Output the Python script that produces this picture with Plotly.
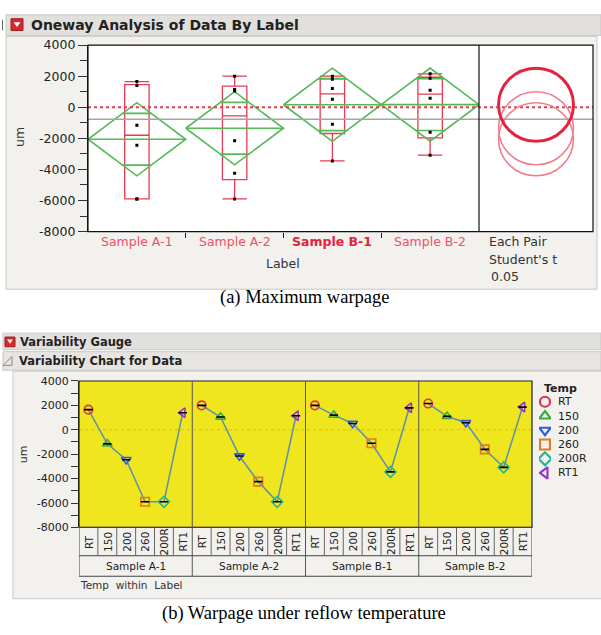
import numpy as np
import plotly.graph_objects as go

# ---------------- data ----------------
samples = ["Sample A-1", "Sample A-2", "Sample B-1", "Sample B-2"]
temps = ["RT", "150", "200", "260", "200R", "RT1"]
warp_a1 = [1650, -1150, -2450, -5900, -5900, 1400]
warp_a2 = [2000, 1050, -2150, -4250, -5900, 1150]
warp_b1 = [2000, 1200, 520, -1100, -3450, 1800]
warp_b2 = [2150, 1100, 580, -1600, -3080, 1860]
y_ticks = [4000, 2000, 0, -2000, -4000, -6000, -8000]
y_minor = [3000, 1000, -1000, -3000, -5000, -7000]
t_crit = 2.086          # Student's t, alpha = 0.05, df = 20
alpha_text = "0.05"
selected = "Sample B-1"

groups = [warp_a1, warp_a2, warp_b1, warp_b2]

# ---------------- geometry helpers ----------------
W, H = 601, 635
def fx(p):
    return p / W
def fy(p):
    return 1 - p / H

SANS = "DejaVu Sans"
SERIF = "Liberation Serif"
BOX_RED = "rgb(232,58,82)"
LBL_RED = "rgb(236,82,104)"
SEL_RED = "rgb(226,36,62)"
GREEN = "rgb(84,186,84)"
YELLOW = "rgb(240,230,30)"
PANEL = "#f2f1ee"
HEADER = "#e2e0dd"
BORDER = "#c9c7c4"
TXT = "#222222"

temp_colors = ["rgb(222,52,84)", "rgb(60,172,64)", "rgb(52,92,222)",
               "rgb(222,122,40)", "rgb(36,180,150)", "rgb(150,52,204)"]
temp_symbols = ["circle-open", "triangle-up-open", "triangle-down-open",
                "square-open", "diamond-open", "triangle-left-open"]

# ---------------- statistics ----------------
data = np.array(groups, dtype=float)
n = data.shape[1]
means = data.mean(axis=1)
grand = data.mean()
ss = ((data - means[:, None]) ** 2).sum()
dfe = data.size - len(groups)
s_pooled = np.sqrt(ss / dfe)
half = t_crit * s_pooled / np.sqrt(n)

fig = go.Figure()
shapes = []
ann = []

def rect_px(x0, y0, x1, y1, fill, line=None, lw=1, layer="below"):
    shapes.append(dict(type="rect", xref="paper", yref="paper",
                       x0=fx(x0), x1=fx(x1), y0=fy(y1), y1=fy(y0),
                       fillcolor=fill, line=dict(color=line or fill, width=lw if line else 0),
                       layer=layer))

def text_px(x, y, t, size, color=TXT, family=SANS, xanchor="left", angle=0):
    ann.append(dict(x=fx(x), y=fy(y), xref="paper", yref="paper", text=t,
                    showarrow=False, xanchor=xanchor, yanchor="middle", textangle=angle,
                    font=dict(family=family, size=size, color=color)))

# ---------------- backgrounds (screenshots) ----------------
rect_px(6, 7, 601, 28, HEADER, BORDER)
rect_px(6, 29, 597, 288, PANEL, BORDER)
rect_px(88, 38, 593, 229, "white")
rect_px(3, 333, 601, 350, HEADER, BORDER)
rect_px(3, 352, 601, 371, "#e7e5e2", BORDER)
rect_px(13, 372, 603, 605, PANEL, BORDER)
rect_px(79, 382, 532, 532, YELLOW)

# icons
shapes.append(dict(type="line", xref="paper", yref="paper", x0=fx(2.5), x1=fx(2.5),
                   y0=fy(23), y1=fy(12), line=dict(color="#666", width=1)))
rect_px(11, 11, 23, 23, "rgb(214,40,46)", "rgb(160,30,30)", layer="above")
shapes.append(dict(type="path", xref="paper", yref="paper",
                   path=f"M {fx(13.5)} {fy(14.5)} L {fx(20.5)} {fy(14.5)} L {fx(17)} {fy(19.5)} Z",
                   fillcolor="white", line=dict(width=0)))
rect_px(5, 337, 15, 347, "rgb(214,40,46)", "rgb(160,30,30)", layer="above")
shapes.append(dict(type="path", xref="paper", yref="paper",
                   path=f"M {fx(7)} {fy(339.5)} L {fx(13)} {fy(339.5)} L {fx(10)} {fy(344)} Z",
                   fillcolor="white", line=dict(width=0)))
shapes.append(dict(type="path", xref="paper", yref="paper",
                   path=f"M {fx(12)} {fy(357)} L {fx(12)} {fy(366)} L {fx(3)} {fy(366)} Z",
                   fillcolor="rgba(0,0,0,0)", line=dict(color="#888", width=1)))

text_px(29, 17.5, "<b>Oneway Analysis of Data By Label</b>", 14)
text_px(18, 342, "<b>Variability Gauge</b>", 11.5)
text_px(17, 362, "<b>Variability Chart for Data</b>", 11.5)

# captions
text_px(305, 296, "(a) Maximum warpage", 18.5, "black", SERIF, "center")
text_px(304, 620, "(b) Warpage under reflow temperature", 18.5, "black", SERIF, "center")

# ---------------- top chart: oneway ----------------
shapes.append(dict(type="line", xref="paper", yref="y", x0=fx(88), x1=fx(593),
                   y0=grand, y1=grand, line=dict(color="rgb(165,165,165)", width=1.5)))
shapes.append(dict(type="line", xref="paper", yref="y", x0=fx(88), x1=fx(593),
                   y0=0, y1=0, line=dict(color="rgb(230,60,80)", width=1.8, dash="dot")))

w_ov = 0.5 * (1 - 1 / np.sqrt(2))
for i, vals in enumerate(groups):
    m = means[i]
    d = half / np.sqrt(2)
    xs = [i - 0.5, i, i + 0.5, i, i - 0.5, None, i - 0.5, i + 0.5, None,
          i - w_ov, i + w_ov, None, i - w_ov, i + w_ov]
    ys = [m, m + half, m, m - half, m, None, m, m, None, m + d, m + d, None, m - d, m - d]
    fig.add_trace(go.Scatter(x=xs, y=ys, mode="lines", xaxis="x", yaxis="y",
                             line=dict(color=GREEN, width=1.6), showlegend=False,
                             hoverinfo="skip"))
    q1, med, q3 = np.percentile(vals, [25, 50, 75], method="weibull")
    iqr = q3 - q1
    lf = min(v for v in vals if v >= q1 - 1.5 * iqr)
    uf = max(v for v in vals if v <= q3 + 1.5 * iqr)
    fig.add_trace(go.Box(x=[i], q1=[q1], median=[med], q3=[q3], lowerfence=[lf],
                         upperfence=[uf], width=0.25, whiskerwidth=1,
                         fillcolor="rgba(0,0,0,0)", line=dict(color=BOX_RED, width=1.3),
                         boxpoints=False, xaxis="x", yaxis="y", showlegend=False,
                         orientation="v"))
    fig.add_trace(go.Scatter(x=[i] * len(vals), y=vals, mode="markers", xaxis="x", yaxis="y",
                             marker=dict(symbol="square", size=3, color="black"),
                             showlegend=False, hoverinfo="skip"))

# comparison circles
px_per_unit = (229 - 38) / 12000.0
order = [1, 0, 3, 2]
for i in order:
    r = half
    rx = r * px_per_unit / (593 - 479)
    sel = samples[i] == selected
    shapes.append(dict(type="circle", xref="x2", yref="y", x0=0.5 - rx, x1=0.5 + rx,
                       y0=means[i] - r, y1=means[i] + r,
                       line=dict(color=SEL_RED if sel else "rgb(242,128,140)",
                                 width=3 if sel else 1.6), layer="above"))

# frame
shapes.append(dict(type="rect", xref="paper", yref="paper", x0=fx(88), x1=fx(593),
                   y0=fy(229), y1=fy(38), line=dict(color="#111", width=1.2), layer="above"))
shapes.append(dict(type="line", xref="paper", yref="paper", x0=fx(479), x1=fx(479),
                   y0=fy(229), y1=fy(38), line=dict(color="#111", width=1.2)))

for i, s in enumerate(samples):
    sel = s == selected
    ann.append(dict(x=i, y=fy(239.5), xref="x", yref="paper", showarrow=False,
                    text=f"<b>{s}</b>" if sel else s, xanchor="center", yanchor="middle",
                    font=dict(family=SANS, size=12.5, color=SEL_RED if sel else LBL_RED)))
text_px(283, 262, "Label", 12.5, "#333", SANS, "center")
text_px(487, 239.5, "Each Pair", 12.5, "#333")
text_px(487, 257.5, "Student's t", 12.5, "#333")
text_px(489, 275, alpha_text, 12.5, "#333")
text_px(20, 132, "um", 12.5, "#333", SANS, "center", -90)

# ---------------- bottom chart: variability ----------------
shapes.append(dict(type="line", xref="paper", yref="y3", x0=fx(79), x1=fx(532),
                   y0=0, y1=0, line=dict(color="rgba(190,150,70,0.6)", width=1, dash="dot")))
for k, vals in enumerate(groups):
    fig.add_trace(go.Scatter(x=[6 * k + j for j in range(len(temps))], y=vals,
                             mode="lines", xaxis="x3", yaxis="y3",
                             line=dict(color="rgb(98,146,168)", width=1.6),
                             showlegend=False, hoverinfo="skip"))
for j, t in enumerate(temps):
    fig.add_trace(go.Scatter(x=[6 * k + j for k in range(len(groups))],
                             y=[g[j] for g in groups], mode="markers", xaxis="x3", yaxis="y3",
                             marker=dict(symbol=temp_symbols[j], size=8.5,
                                         color=temp_colors[j], line=dict(width=1.6)),
                             showlegend=False, name=t, hoverinfo="skip"))
fig.add_trace(go.Scatter(x=[6 * k + j for k in range(len(groups)) for j in range(len(temps))],
                         y=[v for g in groups for v in g], mode="markers", xaxis="x3", yaxis="y3",
                         marker=dict(symbol="line-ew", size=6, color="black",
                                     line=dict(width=1.6, color="black")),
                         showlegend=False, hoverinfo="skip"))

shapes.append(dict(type="rect", xref="paper", yref="paper", x0=fx(79), x1=fx(532),
                   y0=fy(532), y1=fy(382), line=dict(color="#222", width=1.2), layer="above"))
for k in range(1, len(groups)):
    xb = 6 * k - 0.5
    shapes.append(dict(type="line", xref="x3", yref="paper", x0=xb, x1=xb,
                       y0=fy(582), y1=fy(382), line=dict(color="#555", width=1)))
shapes.append(dict(type="rect", xref="x3", yref="paper", x0=-0.5, x1=6 * len(groups) - 0.5,
                   y0=fy(582), y1=fy(532), line=dict(color="#444", width=1)))
shapes.append(dict(type="line", xref="x3", yref="paper", x0=-0.5, x1=6 * len(groups) - 0.5,
                   y0=fy(561), y1=fy(561), line=dict(color="#444", width=1)))
for i in range(6 * len(groups) - 1):
    if (i + 1) % 6 == 0:
        continue
    shapes.append(dict(type="line", xref="x3", yref="paper", x0=i + 0.5, x1=i + 0.5,
                       y0=fy(561), y1=fy(532), line=dict(color="#666", width=1)))
for k, s in enumerate(samples):
    for j, t in enumerate(temps):
        ann.append(dict(x=6 * k + j, y=fy(546.5), xref="x3", yref="paper", text=t,
                        showarrow=False, textangle=-90, xanchor="center", yanchor="middle",
                        font=dict(family=SANS, size=10.5, color=TXT)))
    ann.append(dict(x=6 * k + 2.5, y=fy(571.5), xref="x3", yref="paper", text=s,
                    showarrow=False, xanchor="center", yanchor="middle",
                    font=dict(family=SANS, size=10.5, color=TXT)))
text_px(78, 590.5, "Temp  within  Label", 10.5, "#333")
text_px(23, 457, "um", 11, "#333", SANS, "center", -90)

# legend (manual, compact like JMP)
text_px(542, 390, "<b>Temp</b>", 11, TXT)
for j, t in enumerate(temps):
    fig.add_trace(go.Scatter(x=[0.5], y=[j], mode="markers", xaxis="x4", yaxis="y4",
                             marker=dict(symbol=temp_symbols[j], size=10, color=temp_colors[j],
                                         line=dict(width=2.2)),
                             showlegend=False, hoverinfo="skip"))
    ann.append(dict(x=fx(556), y=j, xref="paper", yref="y4", text=t, showarrow=False,
                    xanchor="left", yanchor="middle",
                    font=dict(family=SANS, size=11, color=TXT)))

tickfont_top = dict(family=SANS, size=12.5, color=TXT)
tickfont_bot = dict(family=SANS, size=11, color=TXT)
ytxt = [str(v) for v in y_ticks]

fig.update_layout(
    width=W, height=H, margin=dict(l=0, r=0, t=0, b=0),
    paper_bgcolor="white", plot_bgcolor="rgba(0,0,0,0)",
    showlegend=False, hovermode=False,
    xaxis=dict(domain=[fx(88), fx(479)], range=[-0.5, len(samples) - 0.5], anchor="y",
               tickmode="array", tickvals=[i + 0.5 for i in range(len(samples) - 1)],
               showticklabels=False, ticks="outside", ticklen=5, tickcolor="#111",
               showgrid=False, zeroline=False, showline=False),
    xaxis2=dict(domain=[fx(479), fx(593)], range=[0, 1], anchor="y", visible=False),
    yaxis=dict(domain=[fy(229), fy(38)], range=[-8000, 4000], anchor="x",
               tickmode="array", tickvals=y_ticks, ticktext=ytxt, ticks="outside",
               ticklen=9, tickcolor="#333", tickfont=tickfont_top,
               minor=dict(tickmode="array", tickvals=y_minor, ticks="outside", ticklen=7,
                          tickcolor="#333"),
               showgrid=False, zeroline=False, showline=True, linecolor="#111", linewidth=1.2),
    xaxis3=dict(domain=[fx(79), fx(532)], range=[-0.5, 6 * len(samples) - 0.5], anchor="y3",
                visible=False),
    yaxis3=dict(domain=[fy(532), fy(382)], range=[-8000, 4000], anchor="x3",
                tickmode="array", tickvals=y_ticks, ticktext=ytxt, ticks="outside",
                ticklen=7, tickcolor="#333", tickfont=tickfont_bot,
                minor=dict(tickmode="array", tickvals=y_minor, ticks="outside", ticklen=7,
                           tickcolor="#333"),
                showgrid=False, zeroline=False, showline=True, linecolor="#222"),
    xaxis4=dict(domain=[fx(539), fx(551)], range=[0, 1], anchor="y4", visible=False),
    yaxis4=dict(domain=[fy(483.5), fy(396)], range=[len(temps) - 0.5, -0.5], anchor="x4",
                visible=False),
    shapes=shapes, annotations=ann,
)

fig.write_html("out.html", config={"displayModeBar": False},
               post_script="document.body.style.margin='0';document.body.style.overflow='hidden';")
